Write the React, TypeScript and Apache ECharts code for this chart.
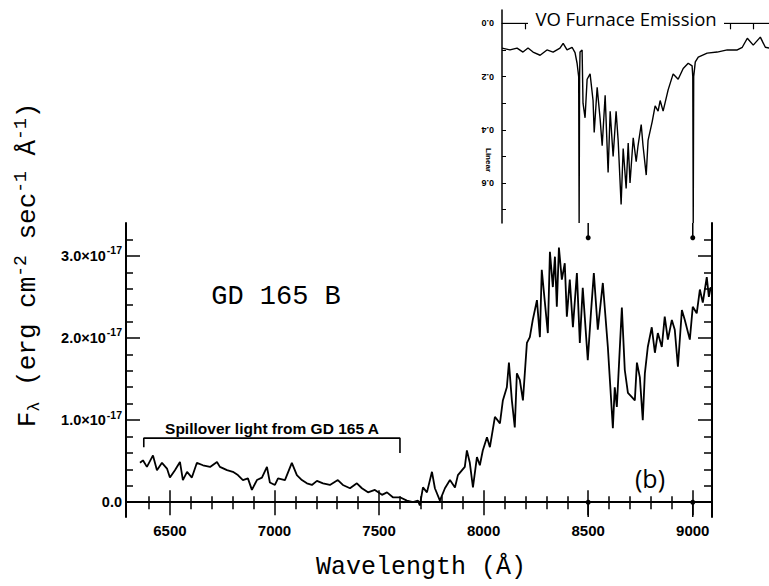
import React, { useEffect, useRef } from "react";
import * as echarts from "echarts";

// Main spectrum of GD 165 B (wavelength in Å, flux in 1e-17 erg cm^-2 s^-1 Å^-1)
const wavelength = [
  6357, 6371, 6390, 6419, 6438, 6462, 6486, 6500, 6524, 6548, 6562, 6582, 6605, 6629, 6658, 6692,
  6725, 6739, 6773, 6801, 6825, 6849, 6873, 6892, 6916, 6940, 6964, 6978, 7002, 7017, 7050, 7083,
  7107, 7131, 7155, 7179, 7203, 7232, 7265, 7303, 7327, 7361, 7394, 7418, 7447, 7480, 7514, 7538,
  7566, 7600, 7633, 7662, 7686, 7695, 7710, 7729, 7753, 7767, 7791, 7815, 7839, 7863, 7877, 7910,
  7920, 7934, 7949, 7968, 7982, 7996, 8016, 8030, 8054, 8078, 8092, 8111, 8121, 8135, 8149, 8159,
  8173, 8188, 8207, 8221, 8235, 8255, 8269, 8278, 8293, 8307, 8317, 8331, 8341, 8350, 8360, 8374,
  8388, 8398, 8412, 8427, 8446, 8460, 8474, 8498, 8513, 8527, 8546, 8570, 8594, 8618, 8627, 8637,
  8661, 8675, 8690, 8709, 8723, 8733, 8747, 8761, 8771, 8785, 8804, 8819, 8833, 8852, 8866, 8881,
  8900, 8914, 8929, 8948, 8962, 8986, 9000, 9019, 9034, 9048, 9067, 9077, 9086,
];
const flux = [
  0.48, 0.51, 0.43, 0.57, 0.39, 0.48, 0.41, 0.30, 0.39, 0.49, 0.27, 0.37, 0.30, 0.48, 0.45, 0.43,
  0.49, 0.43, 0.39, 0.37, 0.33, 0.27, 0.29, 0.15, 0.27, 0.30, 0.43, 0.24, 0.21, 0.29, 0.27, 0.48,
  0.33, 0.27, 0.23, 0.21, 0.26, 0.23, 0.21, 0.27, 0.21, 0.17, 0.23, 0.17, 0.12, 0.15, 0.09, 0.12,
  0.06, 0.06, 0.02, 0.0, 0.02, -0.04, 0.18, 0.12, 0.37, 0.17, 0.02, 0.17, 0.27, 0.18, 0.33, 0.43,
  0.63, 0.48, 0.18, 0.55, 0.45, 0.63, 0.79, 0.67, 1.04, 0.96, 1.24, 1.40, 1.70, 1.24, 0.91, 1.57,
  1.49, 1.24, 1.94, 2.01, 2.22, 2.46, 2.01, 2.83, 2.43, 2.06, 3.05, 2.62, 2.99, 2.38, 3.10, 2.71,
  2.91, 2.26, 2.71, 2.13, 2.79, 1.94, 2.61, 1.73, 2.30, 2.79, 2.10, 2.67, 1.89, 0.90, 1.40, 1.16,
  2.37, 1.61, 1.33, 1.28, 1.24, 1.70, 1.52, 1.00, 1.57, 1.89, 2.13, 1.82, 2.06, 1.89, 2.26, 1.98,
  2.22, 2.10, 1.65, 2.34, 2.22, 1.98, 2.38, 2.30, 2.59, 2.43, 2.74, 2.50, 2.62,
];

// Inset: VO furnace emission (linear depth scale, inverted)
const insetWavelength = [
  8160, 8195, 8226, 8252, 8274, 8296, 8327, 8357, 8384, 8414, 8428, 8445, 8467, 8480, 8489, 8496,
  8498, 8500, 8502, 8511, 8515, 8524, 8533, 8546, 8559, 8564, 8577, 8590, 8599, 8612, 8625, 8634,
  8647, 8660, 8669, 8682, 8691, 8704, 8713, 8721, 8735, 8748, 8756, 8770, 8778, 8792, 8800, 8818,
  8831, 8844, 8853, 8866, 8888, 8910, 8932, 8954, 8976, 8993, 8996, 8998, 9000, 9007, 9020, 9059,
  9103, 9147, 9191, 9213, 9235, 9261, 9292, 9314, 9331,
];
const insetDepth = [
  0.093, 0.1, 0.093, 0.108, 0.093, 0.108, 0.12, 0.1, 0.108, 0.093, 0.075, 0.1, 0.09, 0.11, 0.15, 0.2,
  0.75, 0.2, 0.108, 0.1, 0.3, 0.355, 0.21, 0.19, 0.29, 0.41, 0.24, 0.36, 0.46, 0.27, 0.56, 0.33,
  0.5, 0.33, 0.44, 0.68, 0.47, 0.62, 0.45, 0.6, 0.43, 0.52, 0.46, 0.38, 0.46, 0.57, 0.44, 0.37,
  0.31, 0.33, 0.29, 0.33, 0.25, 0.19, 0.21, 0.17, 0.15, 0.16, 0.2, 0.75, 0.2, 0.145, 0.127, 0.112,
  0.108, 0.1, 0.1, 0.09, 0.056, 0.082, 0.052, 0.09, 0.093,
];

const xMajorTicks = [6500, 7000, 7500, 8000, 8500, 9000];
const xMinorTicks = [
  6400, 6600, 6700, 6800, 6900, 7100, 7200, 7300, 7400, 7600, 7700, 7800, 7900, 8100, 8200, 8300,
  8400, 8600, 8700, 8800, 8900,
];
const yMajorTicks = [0, 1, 2, 3];
const yMinorTicks = [0.2, 0.4, 0.6, 0.8, 1.2, 1.4, 1.6, 1.8, 2.2, 2.4, 2.6, 2.8, 3.2];
const insetYLabels = [0, 0.2, 0.4, 0.6];
const insetYTicks = [0.1, 0.2, 0.3, 0.4, 0.5, 0.6, 0.7];
const insetTopTicks = [8260, 9160, 9260];
const markerWavelengths = [8500, 9000];
const bracket = [
  [6375, 0.67],
  [6375, 0.78],
  [7600, 0.78],
  [7600, 0.6],
];

const MONO = "'Liberation Mono', 'DejaVu Sans Mono', monospace";
const SANS = "'Liberation Sans', Arial, sans-serif";

export default function App() {
  const ref = useRef<HTMLDivElement>(null);
  useEffect(() => {
    if (!ref.current) return;
    const chart = echarts.init(ref.current, undefined, { renderer: "svg" });
    const XMIN = 6290, XMAX = 9092, YMIN = -0.18, YMAX = 3.4;
    const black = "#000";
    const line2 = { show: true, lineStyle: { color: black, width: 2 } };
    const baseX = (pos: string, ticks: number[], len: number, showLine: boolean, labels: boolean) => ({
      type: "value",
      gridIndex: 0,
      position: pos,
      min: XMIN,
      max: XMAX,
      axisLine: showLine ? line2 : { show: false },
      axisTick: { show: true, inside: true, length: len, customValues: ticks, lineStyle: { color: black, width: 1.5 } },
      axisLabel: labels
        ? {
            show: true,
            customValues: xMajorTicks,
            color: black,
            fontSize: 15,
            fontWeight: "bold",
            fontFamily: SANS,
            margin: 6,
            formatter: (v: number) => String(v),
          }
        : { show: false },
      splitLine: { show: false },
    });
    const baseY = (pos: string, ticks: number[], len: number, showLine: boolean, labels: boolean) => ({
      type: "value",
      gridIndex: 0,
      position: pos,
      min: YMIN,
      max: YMAX,
      axisLine: showLine ? line2 : { show: false },
      axisTick: { show: true, inside: true, length: len, customValues: ticks, lineStyle: { color: black, width: 1.5 } },
      axisLabel: labels
        ? {
            show: true,
            customValues: yMajorTicks,
            color: black,
            fontSize: 14.5,
            fontWeight: "bold",
            fontFamily: SANS,
            margin: 4,
            formatter: (v: number) => (v === 0 ? "0.0" : `${v.toFixed(1)}×10{s|-17}`),
            rich: { s: { fontSize: 10.5, fontWeight: "bold", fontFamily: SANS, color: black, padding: [0, 0, 11, 1] } },
          }
        : { show: false },
      splitLine: { show: false },
    });

    const mainData = wavelength.map((w, i) => [w, flux[i]]);
    const insetData = insetWavelength.map((w, i) => [w, insetDepth[i]]);

    const markerSeries: any[] = [];
    markerWavelengths.forEach((w) => {
      markerSeries.push({
        type: "line",
        xAxisIndex: 0,
        yAxisIndex: 0,
        data: [
          { value: [w, YMIN], symbol: "none" },
          { value: [w, 0], symbol: "circle", symbolSize: 5 },
        ],
        lineStyle: { color: black, width: 1.5 },
        itemStyle: { color: black },
        showSymbol: true,
        silent: true,
      });
      markerSeries.push({
        type: "line",
        xAxisIndex: 0,
        yAxisIndex: 0,
        data: [
          { value: [w, YMAX], symbol: "none" },
          { value: [w, 3.22], symbol: "circle", symbolSize: 5 },
        ],
        lineStyle: { color: black, width: 1.5 },
        itemStyle: { color: black },
        showSymbol: true,
        silent: true,
      });
    });

    chart.setOption({
      animation: false,
      backgroundColor: "#fff",
      grid: [
        { left: 126, right: 57, top: 223, bottom: 69 },
        { left: 502, right: 0, top: 10, height: 213 },
      ],
      xAxis: [
        baseX("bottom", xMajorTicks, 12, true, true),
        baseX("bottom", xMinorTicks, 6, false, false),
        baseX("top", xMajorTicks, 13, true, false),
        baseX("top", xMinorTicks, 7, false, false),
        {
          type: "value",
          gridIndex: 1,
          position: "top",
          min: 8160,
          max: 9330,
          axisLine: { show: true, lineStyle: { color: black, width: 1.2 } },
          axisTick: { show: true, inside: true, length: 6, customValues: insetTopTicks, lineStyle: { color: black, width: 1.2 } },
          axisLabel: { show: false },
          splitLine: { show: false },
        },
      ],
      yAxis: [
        baseY("left", yMajorTicks, 14, true, true),
        baseY("left", yMinorTicks, 7, false, false),
        baseY("right", yMajorTicks, 14, true, false),
        baseY("right", yMinorTicks, 8, false, false),
        {
          type: "value",
          gridIndex: 1,
          position: "left",
          inverse: true,
          min: -0.05,
          max: 0.75,
          axisLine: { show: true, lineStyle: { color: black, width: 1.5 } },
          axisTick: { show: true, inside: true, length: 4, customValues: insetYTicks, lineStyle: { color: black, width: 1 } },
          axisLabel: {
            show: true,
            customValues: insetYLabels,
            rotate: 180,
            color: black,
            fontSize: 9,
            fontWeight: "bold",
            fontFamily: SANS,
            margin: 8,
            formatter: (v: number) => v.toFixed(1),
          },
          splitLine: { show: false },
        },
      ],
      series: [
        {
          type: "line",
          xAxisIndex: 0,
          yAxisIndex: 0,
          data: mainData,
          showSymbol: false,
          lineStyle: { color: black, width: 1.8 },
          silent: true,
        },
        {
          type: "line",
          xAxisIndex: 0,
          yAxisIndex: 0,
          data: bracket,
          showSymbol: false,
          lineStyle: { color: black, width: 1.6 },
          silent: true,
        },
        ...markerSeries,
        {
          type: "line",
          xAxisIndex: 4,
          yAxisIndex: 4,
          data: insetData,
          showSymbol: false,
          lineStyle: { color: black, width: 1.4 },
          silent: true,
        },
        {
          type: "line",
          xAxisIndex: 4,
          yAxisIndex: 4,
          data: [
            [8160, 0],
            [9330, 0],
          ],
          showSymbol: false,
          lineStyle: { color: black, width: 1 },
          silent: true,
        },
      ],
      graphic: [
        { type: "rect", shape: { x: 528, y: 7, width: 196, height: 21 }, style: { fill: "#fff" }, z: 100 },
        {
          type: "text",
          x: 626,
          y: 18,
          z: 101,
          style: {
            text: "VO Furnace Emission",
            fontFamily: "'Open Sans', 'DejaVu Sans', sans-serif",
            fontSize: 18.5,
            fill: black,
            align: "center",
            verticalAlign: "middle",
          },
        },
        {
          type: "text",
          x: 488,
          y: 160,
          rotation: -Math.PI / 2,
          z: 101,
          style: { text: "Linear", fontFamily: SANS, fontSize: 8, fontWeight: "bold", fill: black, align: "center", verticalAlign: "middle" },
        },
        {
          type: "text",
          x: 276,
          y: 297,
          z: 101,
          style: { text: "GD 165 B", fontFamily: MONO, fontSize: 27, fill: black, align: "center", verticalAlign: "middle" },
        },
        {
          type: "text",
          x: 272,
          y: 428,
          z: 101,
          style: {
            text: "Spillover light from GD 165 A",
            fontFamily: SANS,
            fontSize: 15.5,
            fontWeight: "bold",
            fill: black,
            align: "center",
            verticalAlign: "middle",
          },
        },
        {
          type: "text",
          x: 650,
          y: 478,
          z: 101,
          style: { text: "(b)", fontFamily: "'Open Sans', 'DejaVu Sans', sans-serif", fontSize: 25, fill: black, align: "center", verticalAlign: "middle" },
        },
        {
          type: "text",
          x: 421,
          y: 567,
          z: 101,
          style: { text: "Wavelength (Å)", fontFamily: MONO, fontSize: 25, fill: black, align: "center", verticalAlign: "middle" },
        },
        {
          type: "text",
          x: 28,
          y: 265,
          rotation: Math.PI / 2,
          z: 101,
          style: {
            text: "F{sub|λ} (erg cm{sup|-2} sec{sup|-1} Å{sup|-1})",
            fontFamily: MONO,
            fontSize: 26,
            fill: black,
            align: "center",
            verticalAlign: "middle",
            rich: {
              sub: { fontFamily: MONO, fontSize: 17, fill: black, padding: [12, 0, 0, 0] },
              sup: { fontFamily: MONO, fontSize: 18, fill: black, padding: [0, 0, 15, 0] },
            },
          },
        },
      ],
    });
    return () => chart.dispose();
  }, []);
  return <div ref={ref} style={{ position: "absolute", left: 0, top: 0, width: 769, height: 586 }} />;
}
